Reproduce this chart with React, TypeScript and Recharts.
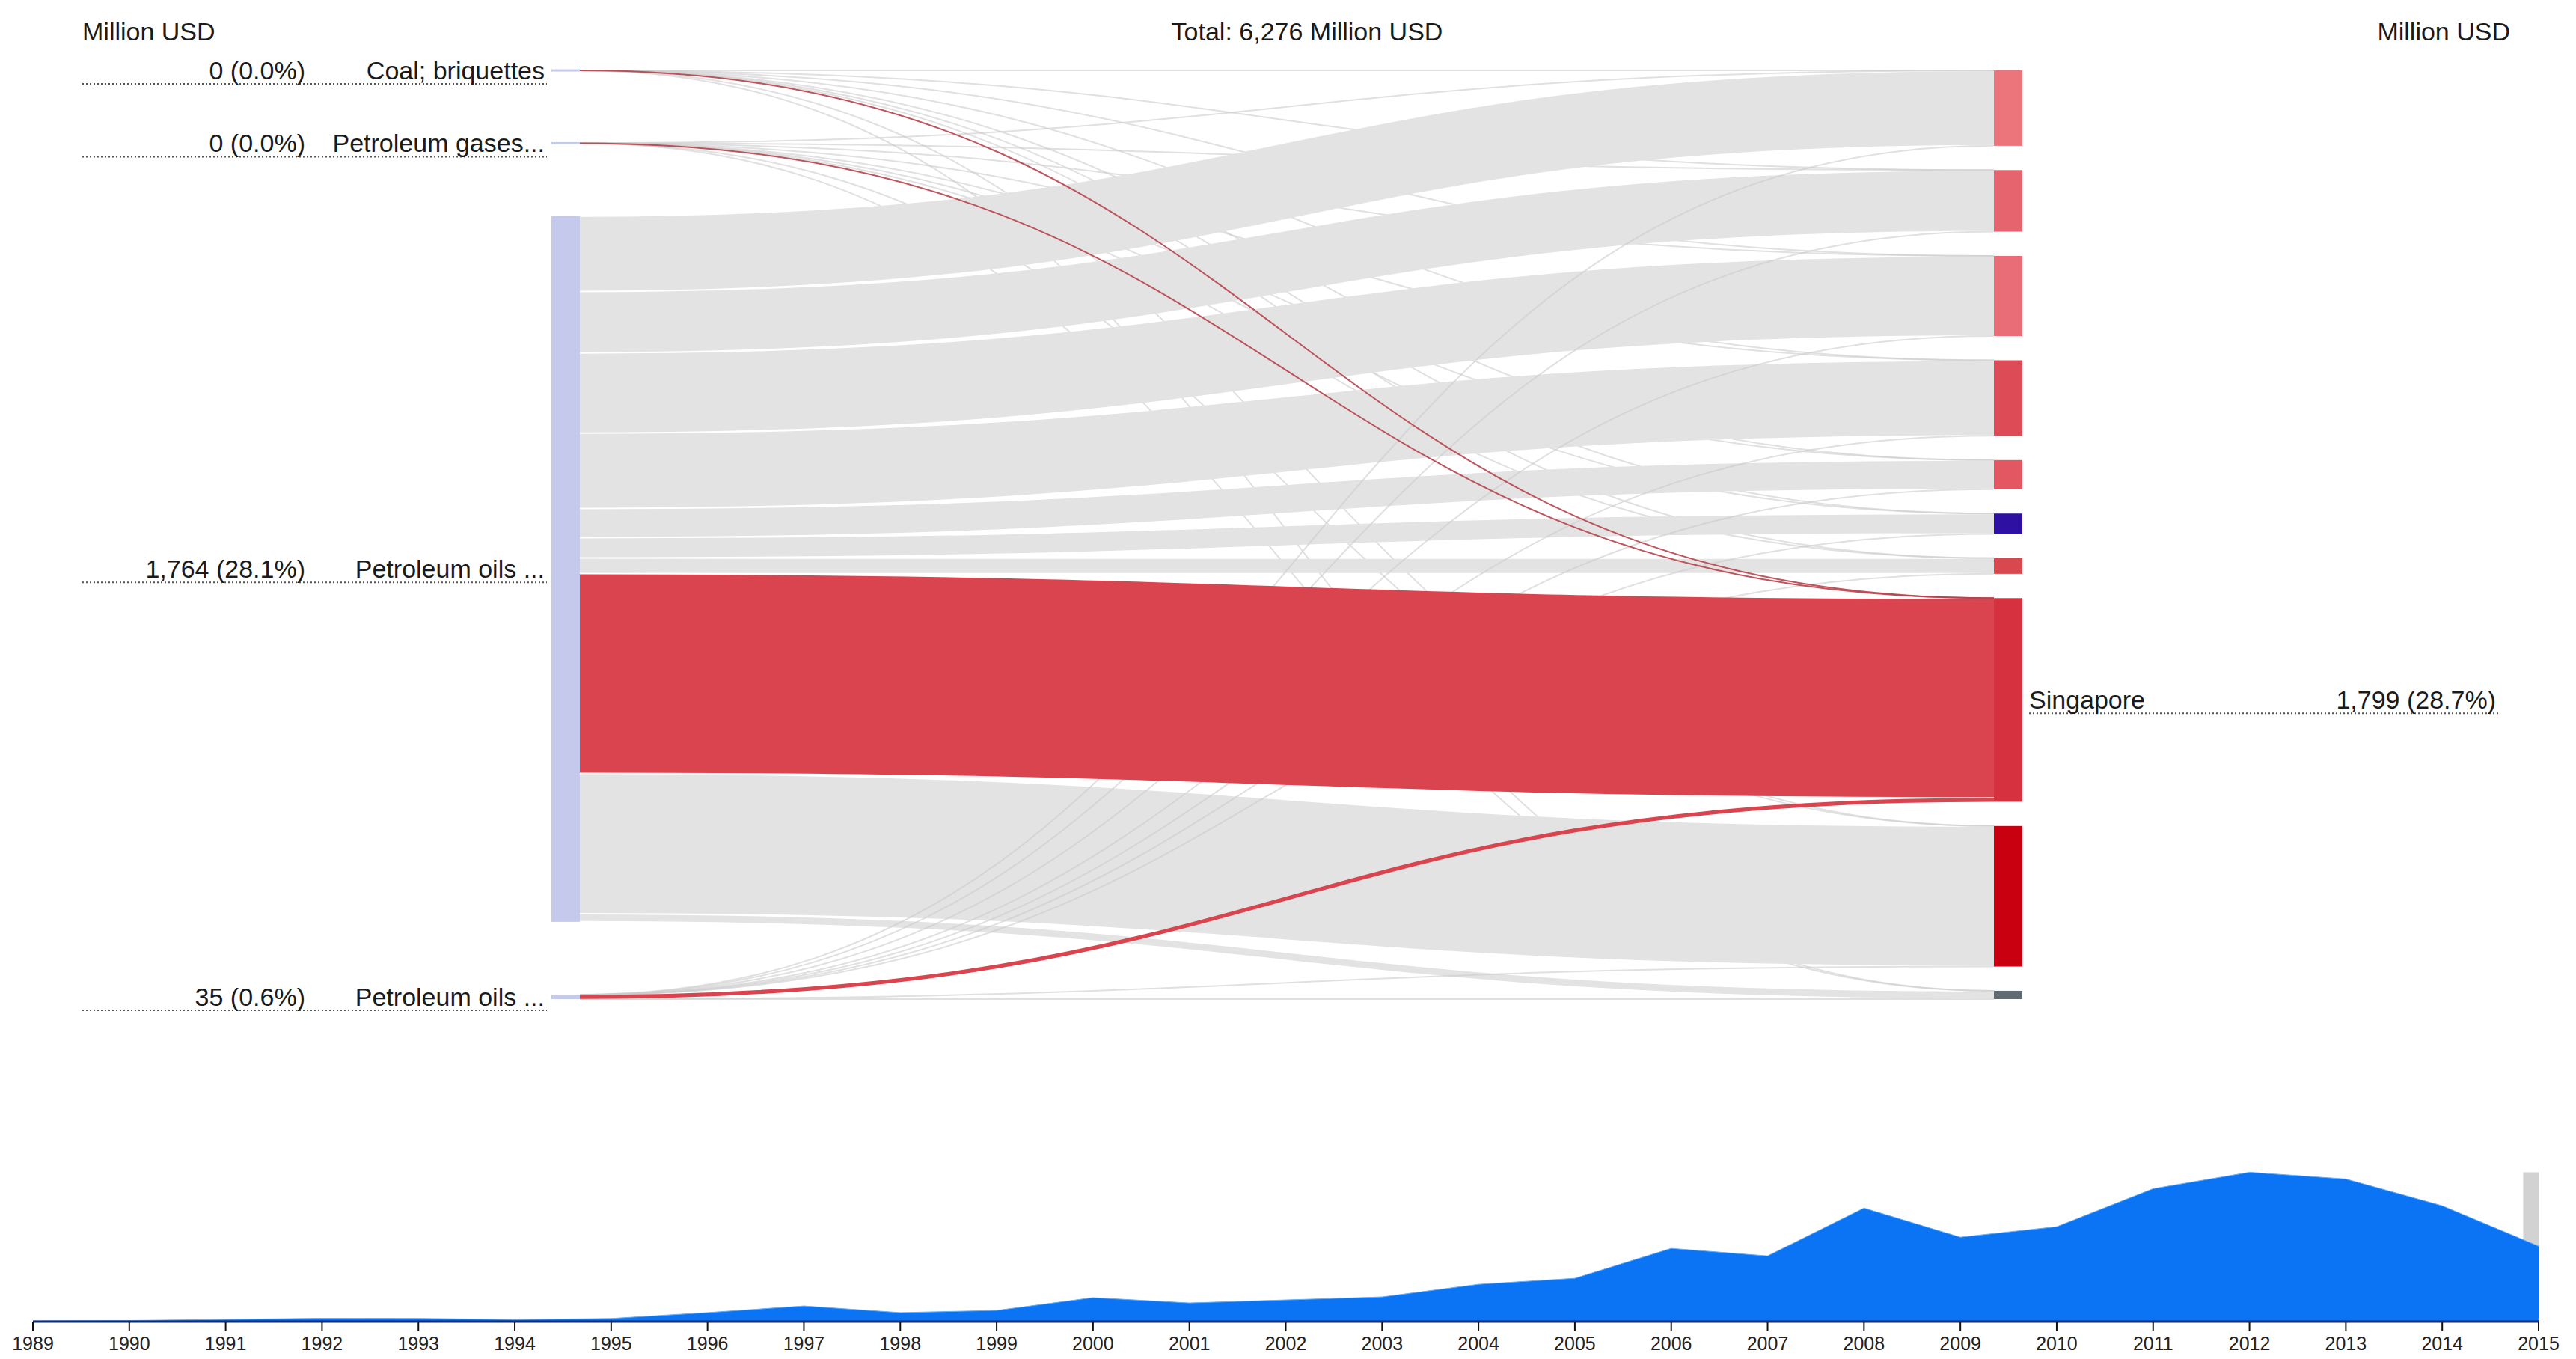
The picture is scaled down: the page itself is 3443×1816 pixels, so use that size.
import React from "react";
import { Sankey, AreaChart, Area, XAxis, YAxis, ReferenceArea } from "recharts";

const FONT = '"Liberation Sans", Arial, Helvetica, sans-serif';

// exporting product groups (left column)
const sourceNames = [
  "Coal; briquettes",
  "Petroleum gases...",
  "Petroleum oils ...",
  "Petroleum oils ...",
];

// destinations (right column), only Singapore is labelled in the chart
const destNames = [
  "Partner 1",
  "Partner 2",
  "Partner 3",
  "Partner 4",
  "Partner 5",
  "Partner 6",
  "Partner 7",
  "Singapore",
  "Partner 9",
  "Partner 10",
];

// flows per product to each destination, million USD
const coalFlows = [0.1, 0.1, 0.1, 0.1, 0.05, 0.05, 0.05, 0.2, 0.1, 0.05];
const gasFlows = [0.1, 0.1, 0.1, 0.1, 0.05, 0.05, 0.05, 0.2, 0.1, 0.05];
const oilMainFlows = [666.4, 543.2, 707.4, 666.3, 257.6, 179.7, 138.7, 1763.6, 1239.6, 72.5];
const oilMinorFlows = [0.4, 0.6, 0.4, 0.5, 0.3, 0.2, 0.2, 35.0, 1.2, 0.4];

// yearly totals for the timeline, million USD
const years = [
  1989, 1990, 1991, 1992, 1993, 1994, 1995, 1996, 1997, 1998, 1999, 2000, 2001,
  2002, 2003, 2004, 2005, 2006, 2007, 2008, 2009, 2010, 2011, 2012, 2013, 2014, 2015,
];
const yearTotals = [
  60, 90, 180, 280, 270, 170, 260, 750, 1300, 750, 930, 1990, 1550,
  1800, 2050, 3100, 3600, 6090, 5460, 9440, 7020, 7890, 11050, 12420, 11860, 9630, 6276,
];

const destColors = [
  "#ec747b", "#e6646e", "#e96d76", "#dd4c56", "#e35762",
  "#2e10a3", "#d9474f", "#d6313f", "#c9000f", "#5f6a72",
];

const flowsBySource = [coalFlows, gasFlows, oilMainFlows, oilMinorFlows];
const sgIndex = destNames.indexOf("Singapore");
const total = flowsBySource.reduce((s, f) => s + f.reduce((a, b) => a + b, 0), 0);

const fmtNum = (v: number) => Math.round(v).toLocaleString("en-US");
const fmtPct = (v: number) => ((v / total) * 100).toFixed(1) + "%";

// nodes: sources with invisible spacers between them (keeps left column spread out)
const nodes: any[] = [];
const sourceNodeIdx: number[] = [];
const spacerIdx: number[] = [];
sourceNames.forEach((name, i) => {
  sourceNodeIdx.push(nodes.length);
  nodes.push({ name, kind: "source", idx: i });
  if (i < sourceNames.length - 1) {
    for (let k = 0; k < 2; k++) {
      spacerIdx.push(nodes.length);
      nodes.push({ name: "", kind: "spacer", idx: -1 });
    }
  }
});
const destStart = nodes.length;
destNames.forEach((name, j) => nodes.push({ name, kind: "dest", idx: j }));

const links: any[] = [];
spacerIdx.forEach((s) => links.push({ source: s, target: destStart, value: 0 }));
const sgLinks: any[] = [];
flowsBySource.forEach((flows, i) => {
  flows.forEach((v, j) => {
    const l = { source: sourceNodeIdx[i], target: destStart + j, value: v };
    if (j === sgIndex) sgLinks.push(l);
    else links.push(l);
  });
});
links.push(...sgLinks);

const timeline = years.map((y, i) => ({ year: y, value: yearTotals[i] }));

const textStyle = { fontFamily: FONT, fontSize: 34, fill: "#1a1a1a" };

function SankeyNode(props: any) {
  const { x, y, width, height, payload } = props;
  if (payload.kind === "spacer") return <g />;
  const h = Math.max(height, 3);
  const cy = y + height / 2;
  if (payload.kind === "source") {
    const toSg = flowsBySource[payload.idx][sgIndex];
    return (
      <g>
        <rect x={x} y={cy - h / 2} width={width} height={h} fill="#c5c9ec" />
        <line x1={110} x2={x - 6} y1={cy + 18} y2={cy + 18} stroke="#555" strokeWidth={2} strokeDasharray="2 3" />
        <text x={408} y={cy} textAnchor="end" dominantBaseline="central" style={textStyle}>
          {fmtNum(toSg)} ({fmtPct(toSg)})
        </text>
        <text x={x - 9} y={cy} textAnchor="end" dominantBaseline="central" style={textStyle}>
          {payload.name}
        </text>
      </g>
    );
  }
  const isSg = payload.name === "Singapore";
  return (
    <g>
      <rect x={x} y={cy - h / 2} width={width} height={h} fill={destColors[payload.idx]} />
      {isSg && (
        <g>
          <line x1={x + width + 9} x2={3340} y1={cy + 18} y2={cy + 18} stroke="#555" strokeWidth={2} strokeDasharray="2 3" />
          <text x={x + width + 9} y={cy} dominantBaseline="central" style={textStyle}>
            {payload.name}
          </text>
          <text x={3336} y={cy} textAnchor="end" dominantBaseline="central" style={textStyle}>
            {fmtNum(payload.value)} ({fmtPct(payload.value)})
          </text>
        </g>
      )}
    </g>
  );
}

function SankeyLink(props: any) {
  const { sourceX, sourceY, targetX, targetY, sourceControlX, targetControlX, linkWidth, payload } = props;
  if (payload.source.kind === "spacer") return <g />;
  const toSg = payload.target.name === "Singapore";
  const thin = linkWidth < 2;
  const d = `M${sourceX},${sourceY} C${sourceControlX},${sourceY} ${targetControlX},${targetY} ${targetX},${targetY}`;
  let stroke = "#e3e3e3";
  let width = linkWidth > 8 ? linkWidth - 2 : linkWidth;
  let opacity = 1;
  if (thin) {
    width = 2;
    stroke = toSg ? "#b8414b" : "#cccccc";
    opacity = toSg ? 0.9 : 0.6;
  } else if (toSg) {
    stroke = "#d9444e";
  }
  return <path d={d} fill="none" stroke={stroke} strokeWidth={width} strokeOpacity={opacity} />;
}

export default function App() {
  return (
    <div style={{ position: "absolute", left: 0, top: 0, width: 3443, height: 1816, background: "#fff" }}>
      <svg width={3443} height={120} style={{ position: "absolute", left: 0, top: 0 }}>
        <text x={110} y={42} dominantBaseline="central" style={textStyle}>Million USD</text>
        <text x={1747} y={42} textAnchor="middle" dominantBaseline="central" style={textStyle}>
          Total: {fmtNum(total)} Million USD
        </text>
        <text x={3355} y={42} textAnchor="end" dominantBaseline="central" style={textStyle}>Million USD</text>
      </svg>
      <div style={{ position: "absolute", left: 0, top: 0 }}>
        <Sankey
          width={3443}
          height={1400}
          data={{ nodes, links }}
          margin={{ top: 94, left: 737, right: 740, bottom: 65 }}
          nodeWidth={38}
          nodePadding={32.4}
          iterations={0}
          sort={false}
          node={(p: any) => <SankeyNode {...p} />}
          link={(p: any) => <SankeyLink {...p} />}
        />
      </div>
      <div style={{ position: "absolute", left: 0, top: 1516 }}>
        <AreaChart width={3443} height={300} data={timeline} margin={{ top: 25, right: 50, left: 44, bottom: 0 }}>
          <XAxis
            dataKey="year"
            type="number"
            domain={[1989, 2015]}
            ticks={years}
            interval={0}
            height={50}
            tickSize={13}
            tickMargin={7}
            axisLine={{ stroke: "#14286e", strokeWidth: 3 }}
            tickLine={{ stroke: "#111", strokeWidth: 2 }}
            tick={{ fontSize: 25, fill: "#222", fontFamily: FONT }}
          />
          <YAxis hide domain={[0, 14000]} />
          <ReferenceArea x1={2014.84} x2={2015} y1={0} y2={12420} fill="#d2d2d2" fillOpacity={1} stroke="none" />
          <Area
            type="linear"
            dataKey="value"
            fill="#0a74f5"
            fillOpacity={1}
            stroke="#5fb0ff"
            strokeWidth={1}
            isAnimationActive={false}
          />
        </AreaChart>
      </div>
    </div>
  );
}
